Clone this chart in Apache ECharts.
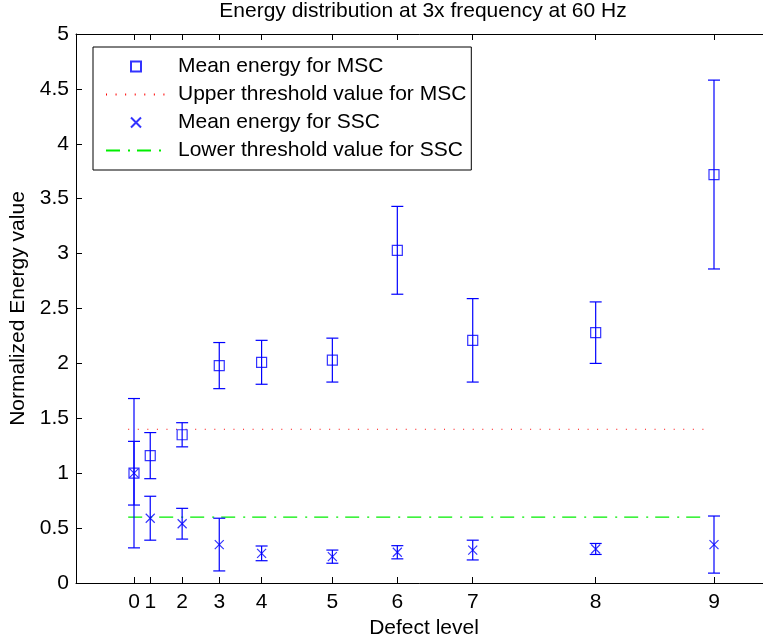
<!DOCTYPE html>
<html>
<head>
<meta charset="utf-8">
<script src="https://cdn.jsdelivr.net/npm/echarts@6/dist/echarts.min.js"></script>
<style>html,body{margin:0;padding:0;background:#fff;}#chart{width:763px;height:643px;}</style>
</head>
<body>
<div id="chart"></div>
<script>
// Defect level labels and their position on the underlying (defect size) scale
const levelLabels = ['0','1','2','3','4','5','6','7','8','9'];
const defectSize = [0, 0.28, 0.83, 1.47, 2.2, 3.42, 4.54, 5.84, 7.96, 10];
// Mean energy for MSC and its error half-width
const mscMean = [1.00, 1.16, 1.35, 1.98, 2.01, 2.03, 3.03, 2.21, 2.28, 3.72];
const mscErr  = [0.68, 0.21, 0.11, 0.21, 0.20, 0.20, 0.40, 0.38, 0.28, 0.86];
// Mean energy for SSC and its error half-width
const sscMean = [1.00, 0.59, 0.54, 0.35, 0.27, 0.24, 0.28, 0.30, 0.31, 0.35];
const sscErr  = [0.29, 0.20, 0.14, 0.24, 0.067, 0.06, 0.06, 0.09, 0.05, 0.26];
// Threshold values and the span they are drawn over
const upperThresholdMSC = 1.4;
const lowerThresholdSSC = 0.6;
const thresholdSpan = [-0.1, 9.9];
const yTicks = [0, 0.5, 1, 1.5, 2, 2.5, 3, 3.5, 4, 4.5, 5];

const FONT = '"Liberation Sans", Arial, Helvetica, sans-serif';
const FS = 21;
const BLUE = '#0000ff';

const mscPts = defectSize.map((x, i) => [x, mscMean[i]]);
const sscPts = defectSize.map((x, i) => [x, sscMean[i]]);
const mscBars = defectSize.map((x, i) => [x, mscMean[i] - mscErr[i], mscMean[i] + mscErr[i]]);
const sscBars = defectSize.map((x, i) => [x, sscMean[i] - sscErr[i], sscMean[i] + sscErr[i]]);

function errorBar(params, api) {
  const x = api.value(0), lo = api.value(1), hi = api.value(2);
  const pH = api.coord([x, hi]);
  const pL = api.coord([x, lo]);
  const hw = 6;
  const st = { stroke: BLUE, lineWidth: 1.2, fill: null };
  return {
    type: 'group',
    children: [
      { type: 'line', shape: { x1: pH[0], y1: pH[1], x2: pL[0], y2: pL[1] }, style: st },
      { type: 'line', shape: { x1: pH[0] - hw, y1: pH[1], x2: pH[0] + hw, y2: pH[1] }, style: st },
      { type: 'line', shape: { x1: pL[0] - hw, y1: pL[1], x2: pL[0] + hw, y2: pL[1] }, style: st }
    ]
  };
}

const chart = echarts.init(document.getElementById('chart'), null, { renderer: 'canvas' });
const sqPath = 'path://M0,0L10,0L10,10L0,10Z';
const xPath = 'path://M0,0L10,10M10,0L0,10';

chart.setOption({
  animation: false,
  backgroundColor: '#fff',
  textStyle: { fontFamily: FONT },
  title: {
    text: 'Energy distribution at 3x frequency at 60 Hz',
    left: 418, top: -4, textAlign: 'center',
    textStyle: { fontFamily: FONT, fontSize: FS, fontWeight: 'normal', color: '#000' }
  },
  grid: { left: 76, top: 34, width: 696, height: 549, containLabel: false, outerBoundsMode: 'none' },
  legend: {
    left: 93, top: 47,
    orient: 'vertical',
    backgroundColor: '#fff',
    borderColor: '#000', borderWidth: 1,
    padding: [9, 5, 9, 12],
    itemWidth: 60, itemHeight: 10, itemGap: 7,
    textStyle: { fontFamily: FONT, fontSize: FS, color: '#000', padding: [0, 0, 0, 7] },
    data: [
      { name: 'Mean energy for MSC', icon: sqPath },
      { name: 'Upper threshold value for MSC', itemStyle: { opacity: 0 } },
      { name: 'Mean energy for SSC', icon: xPath },
      { name: 'Lower threshold value for SSC', itemStyle: { opacity: 0 } }
    ]
  },
  xAxis: [{
    type: 'value', min: -1, max: 11, position: 'bottom',
    name: 'Defect level', nameLocation: 'middle', nameGap: 33,
    nameTextStyle: { fontFamily: FONT, fontSize: FS, color: '#000' },
    axisLine: { onZero: false, lineStyle: { color: '#000', width: 1 } },
    axisTick: { inside: true, length: 6, customValues: defectSize, lineStyle: { color: '#000' } },
    axisLabel: {
      customValues: defectSize, margin: 9,
      fontFamily: FONT, fontSize: FS, color: '#000',
      formatter: v => { const i = defectSize.indexOf(v); return i >= 0 ? levelLabels[i] : ''; }
    },
    splitLine: { show: false }
  }, {
    type: 'value', min: -1, max: 11, position: 'top',
    axisLine: { onZero: false, lineStyle: { color: '#000', width: 1 } },
    axisTick: { inside: true, length: 6, customValues: defectSize, lineStyle: { color: '#000' } },
    axisLabel: { show: false },
    splitLine: { show: false }
  }],
  yAxis: {
    type: 'value', min: 0, max: 5, interval: 0.5,
    name: 'Normalized Energy value', nameLocation: 'middle', nameGap: 44,
    nameTextStyle: { fontFamily: FONT, fontSize: FS, color: '#000' },
    axisLine: { show: true, onZero: false, lineStyle: { color: '#000', width: 1 } },
    axisTick: { show: true, inside: true, length: 6, lineStyle: { color: '#000' } },
    axisLabel: {
      customValues: yTicks, margin: 7,
      fontFamily: FONT, fontSize: FS, color: '#000',
      formatter: v => String(v)
    },
    splitLine: { show: false }
  },
  series: [
    {
      name: 'MSC error', type: 'custom', xAxisIndex: 0, renderItem: errorBar,
      data: mscBars, encode: { x: 0, y: [1, 2] }, z: 2, silent: true
    },
    {
      name: 'SSC error', type: 'custom', xAxisIndex: 0, renderItem: errorBar,
      data: sscBars, encode: { x: 0, y: [1, 2] }, z: 2, silent: true
    },
    {
      name: 'Mean energy for MSC', type: 'scatter', xAxisIndex: 0,
      symbol: sqPath, symbolSize: 10, data: mscPts, z: 3,
      itemStyle: { color: 'rgba(0,0,0,0)', borderColor: BLUE, borderWidth: 1.2 }
    },
    {
      name: 'Upper threshold value for MSC', type: 'line', xAxisIndex: 0,
      symbol: 'none', data: thresholdSpan.map(x => [x, upperThresholdMSC]),
      itemStyle: { color: '#ff0000' },
      lineStyle: { color: '#ff0000', width: 1, type: [1, 8.57] }, z: 1
    },
    {
      name: 'Mean energy for SSC', type: 'scatter', xAxisIndex: 0,
      symbol: xPath, symbolSize: 9, data: sscPts, z: 3,
      itemStyle: { color: 'rgba(0,0,0,0)', borderColor: BLUE, borderWidth: 1.2 }
    },
    {
      name: 'Lower threshold value for SSC', type: 'line', xAxisIndex: 0,
      symbol: 'none', data: thresholdSpan.map(x => [x, lowerThresholdSSC]),
      itemStyle: { color: '#00ff00' },
      lineStyle: { color: '#00ee00', width: 1.2, type: [14, 8, 2, 7] }, z: 1
    }
  ]
});
</script>
</body>
</html>
